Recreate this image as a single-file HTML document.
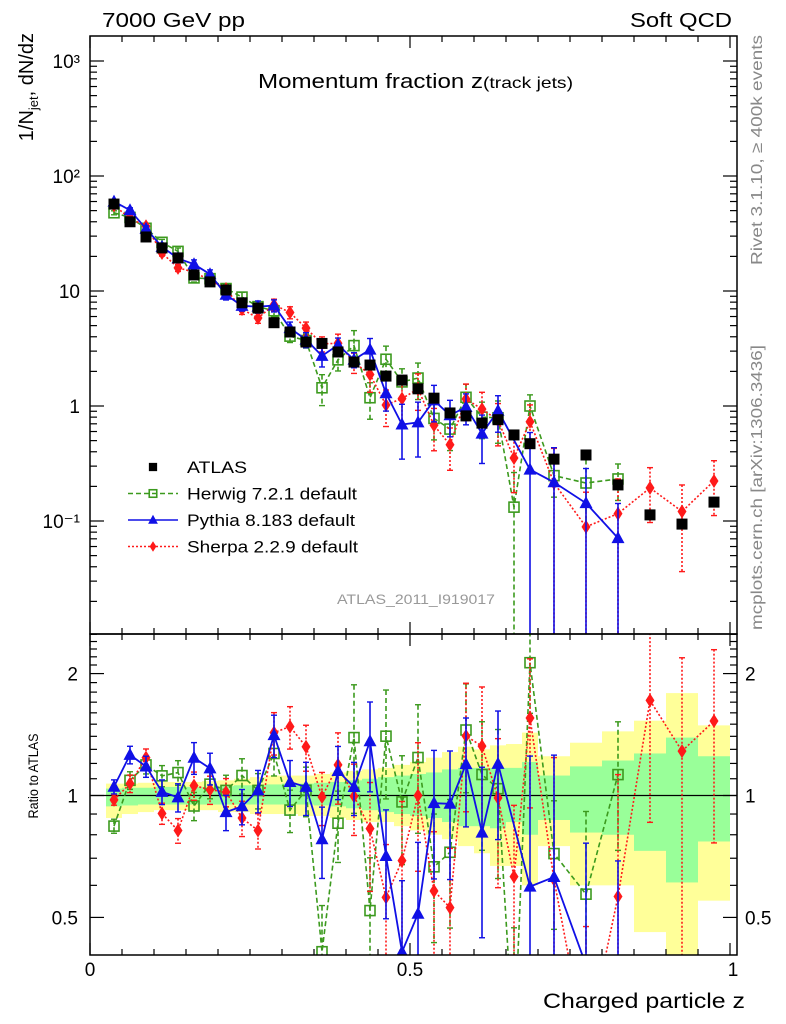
<!DOCTYPE html>
<html><head><meta charset="utf-8"><style>
html,body{margin:0;padding:0;background:#fff;overflow:hidden;width:786px;height:1024px;}
svg{display:block;font-family:"Liberation Sans",Arial,sans-serif;}
</style></head><body>
<svg id="chart" width="786" height="1024" viewBox="0 0 786 1024" xmlns="http://www.w3.org/2000/svg">
<defs>
<clipPath id="clipMain"><rect x="90" y="35" width="647" height="599"/></clipPath>
<clipPath id="clipRatio"><rect x="90" y="634" width="647" height="321"/></clipPath>
</defs>
<g id="bands" clip-path="url(#clipRatio)"></g>
<line x1="90" y1="795.5" x2="737" y2="795.5" stroke="#000" stroke-width="1.3"/>
<g id="mainSeries" clip-path="url(#clipMain)"></g>
<g id="ratioSeries" clip-path="url(#clipRatio)"></g>
<g id="ticks"></g>
<rect x="90" y="36" width="647" height="598" fill="none" stroke="#000" stroke-width="1.5"/>
<rect x="90" y="634" width="647" height="321" fill="none" stroke="#000" stroke-width="1.5"/>
<text x="102" y="27" font-size="20" textLength="143" lengthAdjust="spacingAndGlyphs">7000 GeV pp</text>
<text x="732" y="27" font-size="20" text-anchor="end" textLength="102" lengthAdjust="spacingAndGlyphs">Soft QCD</text>
<text x="258" y="88" font-size="20" textLength="315" lengthAdjust="spacingAndGlyphs">Momentum fraction z<tspan font-size="16">(track jets)</tspan></text>
<text transform="translate(33,33) rotate(-90)" text-anchor="end" font-size="20">1/N<tspan font-size="13" dy="5">jet</tspan><tspan dy="-5">, dN/dz</tspan></text>
<text transform="translate(38,776) rotate(-90)" text-anchor="middle" font-size="13.5" textLength="85" lengthAdjust="spacingAndGlyphs">Ratio to ATLAS</text>
<text transform="translate(762,35) rotate(-90)" text-anchor="end" font-size="16" fill="#888" textLength="230" lengthAdjust="spacingAndGlyphs">Rivet 3.1.10, ≥ 400k events</text>
<text transform="translate(762,345) rotate(-90)" text-anchor="end" font-size="16" fill="#888" textLength="285" lengthAdjust="spacingAndGlyphs">mcplots.cern.ch [arXiv:1306.3436]</text>
<text x="337" y="604" font-size="13.5" fill="#999" textLength="158" lengthAdjust="spacingAndGlyphs">ATLAS_2011_I919017</text>
<text x="745" y="1008" font-size="21" text-anchor="end" textLength="202" lengthAdjust="spacingAndGlyphs">Charged particle z</text>
<g id="legend"></g>
<g id="labels"></g>
</svg>
<script>
const binLo=[0.025,0.05,0.075,0.1,0.125,0.15,0.175,0.2,0.225,0.25,0.275,0.3,0.325,0.35,0.375,0.4,0.425,0.45,0.475,0.5,0.525,0.55,0.575,0.6,0.625,0.65,0.675,0.7,0.75,0.8,0.85,0.9,0.95];
const binHi=[0.05,0.075,0.1,0.125,0.15,0.175,0.2,0.225,0.25,0.275,0.3,0.325,0.35,0.375,0.4,0.425,0.45,0.475,0.5,0.525,0.55,0.575,0.6,0.625,0.65,0.675,0.7,0.75,0.8,0.85,0.9,0.95,1.0];
const atlas=[57,40,29.5,23.7,19.4,13.8,12,10.2,7.9,7.1,5.3,4.4,3.6,3.5,2.95,2.41,2.27,1.82,1.68,1.41,1.17,0.87,0.82,0.71,0.76,0.56,0.47,0.345,0.375,0.206,0.113,0.094,0.146];
const herwig=[47.9,43.6,35.1,26.5,22.1,13.0,12.8,10.5,8.85,7.31,6.73,4.05,3.71,1.44,2.52,3.35,1.18,2.55,1.62,1.75,0.78,0.63,1.19,0.80,0.79,0.132,1.0,0.248,0.214,0.232,null,null,null];
const herwigErr=[0.04,0.05,0.05,0.06,0.07,0.08,0.08,0.09,0.1,0.1,0.12,0.12,0.14,0.3,0.2,0.35,0.35,0.3,0.3,0.35,0.35,0.35,0.3,0.35,0.4,1.0,0.25,0.35,0.6,0.35,null,null,null];
const pythia=[59.9,50.4,34.8,24.2,19.2,17.1,14.0,9.28,7.43,7.31,7.47,4.75,3.78,2.73,3.39,2.53,3.09,1.29,0.69,0.72,1.12,0.83,0.98,0.575,0.91,null,0.28,0.217,0.143,0.071,null,null,null];
const pythiaErr=[0.04,0.05,0.06,0.07,0.08,0.09,0.09,0.1,0.1,0.12,0.12,0.13,0.15,0.2,0.15,0.15,0.25,0.3,0.5,0.5,0.35,0.35,0.3,0.45,0.35,null,1.1,1.0,1.0,1.0,null,null,null];
const sherpa=[55.6,42.8,36.6,21.4,15.9,14.6,12.4,10.4,6.95,5.82,7.58,6.51,4.75,3.47,3.51,2.40,1.88,1.02,1.16,1.41,0.68,0.46,1.15,0.94,0.75,0.353,0.73,0.214,0.089,0.116,0.194,0.121,0.223];
const sherpaErr=[0.03,0.05,0.05,0.06,0.07,0.08,0.08,0.08,0.1,0.1,0.12,0.12,0.13,0.15,0.2,0.2,0.3,0.35,0.4,0.35,0.4,0.4,0.35,0.4,0.4,0.5,0.4,1.0,1.0,1.0,0.5,0.7,0.5];
const greenHi=[1.04,1.045,1.045,1.05,1.05,1.05,1.05,1.055,1.06,1.06,1.065,1.07,1.07,1.075,1.08,1.09,1.10,1.11,1.12,1.13,1.14,1.16,1.17,1.17,1.17,1.17,1.21,1.12,1.18,1.22,1.27,1.39,1.25];
const greenLo=[0.94,0.945,0.95,0.95,0.95,0.95,0.95,0.95,0.95,0.95,0.95,0.95,0.95,0.945,0.94,0.93,0.92,0.91,0.9,0.89,0.88,0.86,0.84,0.84,0.83,0.86,0.80,0.87,0.81,0.80,0.73,0.61,0.77];
const yellowHi=[1.07,1.07,1.075,1.08,1.08,1.08,1.085,1.09,1.10,1.11,1.12,1.12,1.12,1.13,1.14,1.15,1.16,1.17,1.19,1.21,1.24,1.28,1.32,1.30,1.33,1.34,1.43,1.25,1.35,1.44,1.53,1.79,1.49];
const yellowLo=[0.88,0.9,0.91,0.92,0.92,0.92,0.92,0.91,0.91,0.90,0.90,0.90,0.89,0.89,0.88,0.87,0.86,0.86,0.84,0.82,0.80,0.78,0.75,0.72,0.67,0.67,0.60,0.75,0.60,0.60,0.46,0.40,0.55];
const mainTickLabels=["10³","10²","10","1","10⁻¹"];
const mainTickValues=[1000,100,10,1,0.1];
const ratioTickLabels=["2","1","0.5"];
const ratioTickValues=[2,1,0.5];
const xTickLabels=["0","0.5","1"];
const xTickValues=[0,0.5,1];

const NS="http://www.w3.org/2000/svg";
const X=z=>90+640*z;
const YM=v=>406-115*Math.log10(v);
const YR=r=>795.5-405*Math.log10(r);
function mk(tag,attrs,parent){const e=document.createElementNS(NS,tag);for(const k in attrs)e.setAttribute(k,attrs[k]);parent.appendChild(e);return e;}
const bands=document.getElementById('bands'),mainG=document.getElementById('mainSeries'),ratioG=document.getElementById('ratioSeries'),ticks=document.getElementById('ticks'),labels=document.getElementById('labels'),legend=document.getElementById('legend');
const cen=i=>(binLo[i]+binHi[i])/2;

for(let i=0;i<binLo.length;i++){
  const x0=X(binLo[i]),w=X(binHi[i])-x0;
  const y=mk('rect',{x:x0,y:YR(yellowHi[i]),width:w,height:YR(yellowLo[i])-YR(yellowHi[i]),fill:'#ffff99'},bands);
  
  
  const g=mk('rect',{x:x0,y:YR(greenHi[i]),width:w,height:YR(greenLo[i])-YR(greenHi[i]),fill:'#99ff99'},bands);
  
  
}
function marker(type,cx,cy,color,parent,s){
  s=s||1;let e;
  if(type==='sq'){e=mk('rect',{x:cx-5.5*s,y:cy-5.5*s,width:11*s,height:11*s,fill:'#000'},parent);}
  else if(type==='osq'){e=mk('rect',{x:cx-5*s,y:cy-5*s,width:10*s,height:10*s,fill:'none',stroke:color,'stroke-width':1.6},parent);}
  else if(type==='tri'){e=mk('polygon',{points:`${cx},${cy-7*s} ${cx-6.5*s},${cy+5*s} ${cx+6.5*s},${cy+5*s}`,fill:color},parent);}
  else {e=mk('polygon',{points:`${cx},${cy-7*s} ${cx+4.5*s},${cy} ${cx},${cy+7*s} ${cx-4.5*s},${cy}`,fill:color},parent);}
  return e;
}
function series(vals,errs,color,dash,mtype,name,width){
  [[mainG,YM,640],[ratioG,YR,960]].forEach(([G,Y,lim],k)=>{
    const pts=[];
    for(let i=0;i<vals.length;i++){
      if(vals[i]==null)continue;
      const val=k===0?vals[i]:vals[i]/atlas[i];
      const cx=X(cen(i)),cy=Y(val);
      pts.push(cx+','+Math.min(cy,lim+200));
      if(errs[i]!=null){
        const e=val*errs[i];
        const top=Y(val+e),bot=(val-e>0)?Math.min(Y(val-e),lim):lim;
        const l=mk('line',{x1:cx,y1:top,x2:cx,y2:bot,stroke:color,'stroke-width':1.6,'stroke-dasharray':dash},G);
        
        
        mk('line',{x1:cx-3,y1:top,x2:cx+3,y2:top,stroke:color,'stroke-width':1.4},G);
        if(bot<lim)mk('line',{x1:cx-3,y1:bot,x2:cx+3,y2:bot,stroke:color,'stroke-width':1.4},G);
      }
    }
    const pl=mk('polyline',{points:pts.join(' '),fill:'none',stroke:color,'stroke-width':width,'stroke-dasharray':dash},G);
    
    
    for(let i=0;i<vals.length;i++){
      if(vals[i]==null)continue;
      const val=k===0?vals[i]:vals[i]/atlas[i];
      const m=marker(mtype,X(cen(i)),Y(val),color,G);
      
      
    }
  });
}
series(herwig,herwigErr,'#3c9a1e','5,3','osq','herwig',1.6);
series(sherpa,sherpaErr,'#ff1a1a','2,2','dia','sherpa',1.6);
series(pythia,pythiaErr,'#1010e6','none','tri','pythia',1.8);
for(let i=0;i<atlas.length;i++){
  const m=marker('sq',X(cen(i)),YM(atlas[i]),'#000',mainG);
  
  
}
function tk(x1,y1,x2,y2){mk('line',{x1,y1,x2,y2,stroke:'#000','stroke-width':1.2},ticks);}
for(let d=-2;d<=3;d++){for(let m=1;m<10;m++){const v=m*Math.pow(10,d);const y=YM(v);if(y<36||y>634)continue;const L=m===1?14:7;tk(90,y,90+L,y);tk(737,y,737-L,y);}}
for(let r=0.4;r<=2.51;r+=0.1){const y=YR(r);if(y<634||y>955)continue;const maj=Math.abs(r-1)<1e-6||Math.abs(r-2)<1e-6||Math.abs(r-0.5)<1e-6;const L=maj?14:7;tk(90,y,90+L,y);tk(737,y,737-L,y);}
for(let j=0;j<=20;j++){const z=j*0.05;const x=X(z);const L=(j%10===0)?12:6;tk(x,955,x,955-L);tk(x,634,x,634-L);tk(x,634,x,634+L);tk(x,36,x,36+L);}
mainTickValues.forEach((v,i)=>{const t=mk('text',{x:80,y:YM(v)+7,'font-size':19,'text-anchor':'end'},labels);t.textContent=mainTickLabels[i];});
ratioTickValues.forEach((v,i)=>{const t=mk('text',{x:78,y:YR(v)+7,'font-size':19,'text-anchor':'end'},labels);t.textContent=ratioTickLabels[i];
 const t2=mk('text',{x:745,y:YR(v)+7,'font-size':19},labels);t2.textContent=ratioTickLabels[i];});
xTickValues.forEach((v,i)=>{const t=mk('text',{x:X(v)+(i===2?3:0),y:976,'font-size':19,'text-anchor':'middle'},labels);t.textContent=xTickLabels[i];});
const leg=[["ATLAS",'sq','#000',null,60],["Herwig 7.2.1 default",'osq','#3c9a1e','5,3',170],["Pythia 8.183 default",'tri','#1010e6','none',168],["Sherpa 2.2.9 default",'dia','#ff1a1a','2,2',171]];
leg.forEach((l,i)=>{const y=467+26.5*i;const g=mk('g',{},legend);
 if(l[3])mk('line',{x1:128,y1:y,x2:178,y2:y,stroke:l[2],'stroke-width':1.5,'stroke-dasharray':l[3]},g);
 marker(l[1],153,y,l[2],g,0.75);
 const t=mk('text',{x:187,y:y+6,'font-size':17,textLength:l[4],lengthAdjust:'spacingAndGlyphs'},g);t.textContent=l[0];});
</script>
</body></html>
